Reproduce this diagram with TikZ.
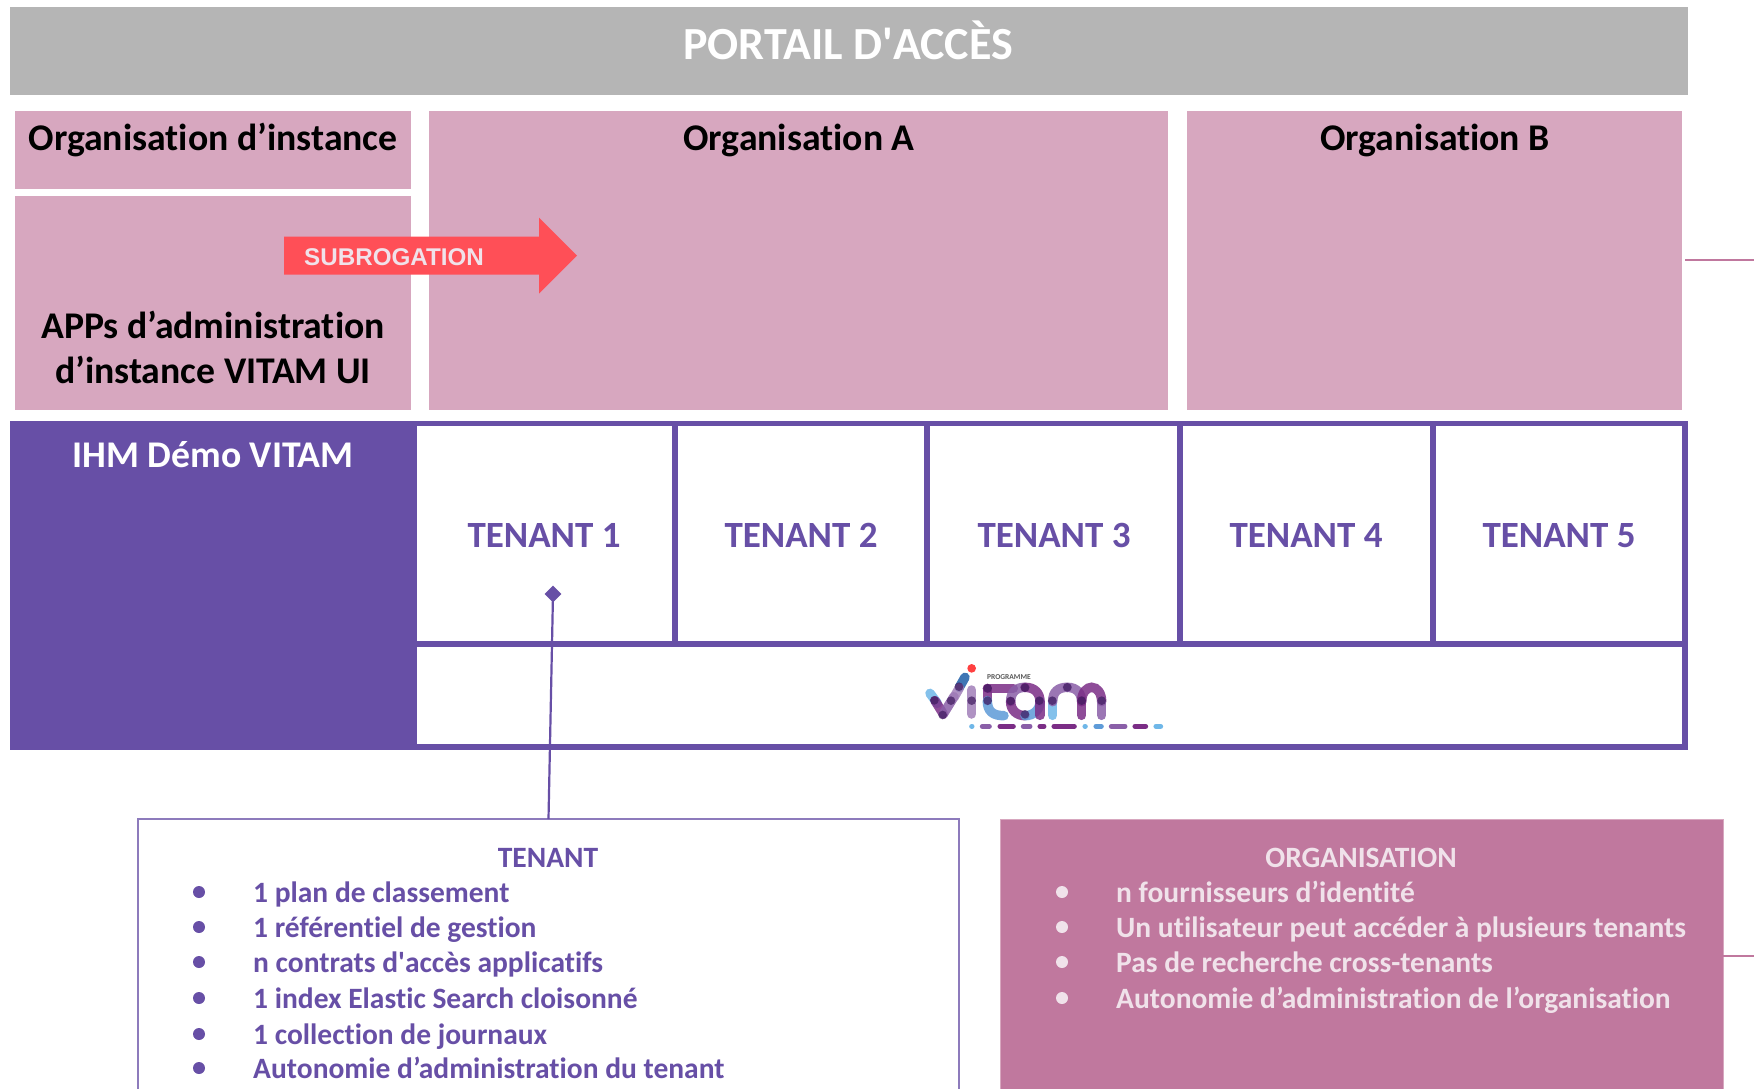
\documentclass[tikz,border=0pt]{standalone}
\usepackage{fontspec}
\setmainfont{Carlito}[RawFeature={-liga;-dlig;-clig}]
\newfontfamily\arialf{Liberation Sans}
\usetikzlibrary{shapes.geometric}
\definecolor{hdr}{HTML}{B5B5B5}
\definecolor{lpink}{HTML}{D7A7BF}
\definecolor{dpink}{HTML}{C0789E}
\definecolor{purp}{HTML}{674FA6}
\definecolor{redar}{HTML}{FF4F57}
\definecolor{ltxt}{HTML}{F0E2EA}
\definecolor{lb}{HTML}{6FB7E8}
\definecolor{mb}{HTML}{5E9BD8}
\definecolor{db}{HTML}{1F5FA8}
\definecolor{lp}{HTML}{8A5FA8}
\definecolor{dp}{HTML}{7B2D86}
\definecolor{dk}{HTML}{3F1A5E}
\tikzset{
  x=1pt,y=-1pt,
  area/.style={anchor=north west,inner sep=0pt,outer sep=0pt,draw=none},
  pinkbox/.style={area,fill=lpink},
  cell/.style={area,draw=purp,line width=5.5pt,fill=white},
  head/.style={font=\bfseries\fontsize{37.7}{45}\selectfont,text=black,align=center,inner sep=0pt},
  tenantlbl/.style={font=\bfseries\fontsize{37}{40}\selectfont,text=purp,inner sep=0pt,anchor=base},
  item/.style={font=\bfseries\fontsize{29.5}{30}\selectfont,anchor=base west,inner sep=0pt},
  dotb/.style={circle,minimum size=12pt,inner sep=0pt,outer sep=0pt},
  seg/.style={line width=9.5pt,line cap=round,opacity=.85},
  dsh/.style={line width=5pt,line cap=round},
}
\begin{document}
\begin{tikzpicture}
\useasboundingbox (0,0) rectangle (1754,1088);
\clip (0,0) rectangle (1754,1088);
\fill[white] (0,0) rectangle (1754,1088);

% Header
\node[area,fill=hdr,minimum width=1678pt,minimum height=88pt] (portal) at (10,7) {};
\node[font=\bfseries\fontsize{46}{50}\selectfont,text=white,inner sep=0pt] (portaltxt) at (848,40) {PORTAIL D\textquotesingle ACCÈS};

% Pink boxes
\node[pinkbox,minimum width=396pt,minimum height=78pt] (orginst) at (15,111) {};
\node[pinkbox,minimum width=396pt,minimum height=214pt] (apps) at (15,196) {};
\node[pinkbox,minimum width=739pt,minimum height=299pt] (orga) at (429,111) {};
\node[pinkbox,minimum width=495pt,minimum height=299pt] (orgb) at (1187,111) {};
\node[head,anchor=base] (orginsttxt) at (213,150) {Organisation d’instance};
\node[head,anchor=base] (orgatxt) at (799,150) {Organisation A};
\node[head,anchor=base] (orgbtxt) at (1435,150) {Organisation B};
\node[head] (appstxt) at (213,347) {APPs d’administration\\d’instance VITAM UI};

% Tenant cells
\node[cell,minimum width=261pt,minimum height=220.5pt] (t1) at (414,423.5) {};
\node[cell,minimum width=252pt,minimum height=220.5pt] (t2) at (675,423.5) {};
\node[cell,minimum width=253pt,minimum height=220.5pt] (t3) at (927,423.5) {};
\node[cell,minimum width=253pt,minimum height=220.5pt] (t4) at (1180,423.5) {};
\node[cell,minimum width=252pt,minimum height=220.5pt] (t5) at (1433,423.5) {};
\node[cell,minimum width=1271pt,minimum height=103pt] (logo) at (414,644) {};

% Purple block
\node[area,fill=purp,minimum width=406.5pt,minimum height=329.5pt] (ihm) at (10,420.5) {};
\node[font=\bfseries\fontsize{37.7}{40}\selectfont,text=white,inner sep=0pt] (ihmtxt) at (213,455) {IHM Démo VITAM};
\node[tenantlbl] (l1) at (544,547) {TENANT 1};
\node[tenantlbl] (l2) at (801,547) {TENANT 2};
\node[tenantlbl] (l3) at (1054,547) {TENANT 3};
\node[tenantlbl] (l4) at (1306,547) {TENANT 4};
\node[tenantlbl] (l5) at (1559,547) {TENANT 5};

% Logo
\begin{scope}[shift={(880,640)},x=0.3333pt,y=-0.3333pt]
  \draw[seg,lb] (150,160) -- (172,190);
  \draw[seg,dp] (165,182) -- (190,222);
  \draw[seg,lp] (190,222) -- (222,170);
  \draw[seg,db] (238,142) -- (255,112);
  \draw[seg,lp!80!white] (222,172) -- (238,144);
  \fill[red!75!white] (275,85) circle (13);
  \draw[seg,lp!80!white] (275,150) -- (275,222);
  \draw[seg,dp] (322,145) -- (322,182);
  \draw[seg,mb] (322,182) .. controls (322,215) and (340,227) .. (372,227);
  \draw[seg,dp] (322,145) -- (400,145);
  \draw[seg,lp] (392,185) .. controls (392,155) and (410,142) .. (435,142);
  \draw[seg,dp] (435,142) .. controls (465,142) and (480,160) .. (480,185);
  \draw[seg,dp] (392,185) .. controls (392,210) and (410,227) .. (435,227);
  \draw[seg,mb] (435,227) .. controls (460,227) and (480,210) .. (480,185);
  \draw[seg,dp] (480,185) -- (480,226);
  \draw[seg,lb] (518,226) -- (518,185);
  \draw[seg,lp] (518,185) .. controls (518,155) and (535,142) .. (562,142);
  \draw[seg,lp] (562,142) .. controls (590,142) and (605,160) .. (605,185);
  \draw[seg,dp] (605,182) -- (605,226);
  \draw[seg,dp] (605,185) .. controls (605,155) and (622,142) .. (635,142) .. controls (652,142) and (665,160) .. (665,185);
  \draw[seg,lp] (665,185) -- (665,226);
  \foreach \dx/\dy in {163/181,213/182,237/140,188/225,275/182,323/145,323/182,392/183,435/143,435/223,478/182,517/182,562/142,605/182,665/182}
    \fill[dk,opacity=.7] (\dx,\dy) circle (13);
  \draw[dsh,lb] (275,259) -- (276,259);
  \draw[dsh,lp] (307,259) -- (328,259);
  \draw[dsh,dp] (360,259) -- (400,259);
  \draw[dsh,lp] (430,259) -- (450,259);
  \draw[dsh,dp] (480,259) -- (492,259);
  \draw[dsh,dp] (522,259) -- (583,259);
  \draw[dsh,lb] (615,259) -- (616,259);
  \draw[dsh,mb] (648,259) -- (664,259);
  \draw[dsh,lp] (694,259) -- (735,259);
  \draw[dsh,dp] (765,259) -- (797,259);
  \draw[dsh,lb] (828,259) -- (842,259);
  \node[font=\bfseries\fontsize{7.5}{8}\selectfont,text=black!65,inner sep=0pt] (prog) at (387,112) {PROGRAMME};
\end{scope}

% Subrogation arrow
\fill[redar] (284,236.5) -- (539,236.5) -- (539,217.5) -- (577,255.5) -- (539,293.5) -- (539,274.5) -- (284,274.5) -- cycle;
\node[font=\arialf\bfseries\fontsize{24.2}{26}\selectfont,text=ltxt,anchor=west,inner sep=0pt] (subro) at (304,257) {SUBROGATION};

% Description boxes
\node[area,fill=white,draw=purp!75!white,line width=1.4pt,minimum width=821pt,minimum height=320pt] (tbox) at (138,819) {};
\node[area,fill=dpink,draw=lpink,line width=1pt,minimum width=723pt,minimum height=320pt] (obox) at (1000,819) {};

% Connector with diamond
\node[diamond,aspect=1,fill=purp,inner sep=0pt,minimum size=17pt] (dia) at (553,594) {};
\draw[purp,line width=2.2pt] (dia.center) -- (tbox.north);

% Stubs
\coordinate (s1a) at (1685,260);
\coordinate (s1b) at (1754,260);
\coordinate (s2a) at (1723,956);
\coordinate (s2b) at (1754,956);
\draw[dpink,line width=1.8pt] (s1a) -- (s1b);
\draw[dpink,line width=1.5pt] (s2a) -- (s2b);

% Tenant text
\node[font=\bfseries\fontsize{29.5}{30}\selectfont,text=purp,inner sep=0pt] (ttitle) at (548,858) {TENANT};
\foreach \i/\y/\t in {1/892/1 plan de classement,2/927/1 référentiel de gestion,3/962/n contrats d\textquotesingle accès applicatifs,4/998/1 index Elastic Search cloisonné,5/1034/1 collection de journaux,6/1068/Autonomie d’administration du tenant}{
  \node[dotb,fill=purp] (tb\i) at (199,\y) {};
  \node[item,text=purp] (tt\i) at (253,\y+10) {\t};
}

% Organisation text
\node[font=\bfseries\fontsize{29.5}{30}\selectfont,text=ltxt,inner sep=0pt] (otitle) at (1361,858) {ORGANISATION};
\foreach \i/\y/\t in {1/892/n fournisseurs d’identité,2/927/Un utilisateur peut accéder à plusieurs tenants,3/962/Pas de recherche cross-tenants,4/998/Autonomie d’administration de l’organisation}{
  \node[dotb,fill=ltxt] (ob\i) at (1062,\y) {};
  \node[item,text=ltxt] (ot\i) at (1116,\y+10) {\t};
}
\end{tikzpicture}
\end{document}
